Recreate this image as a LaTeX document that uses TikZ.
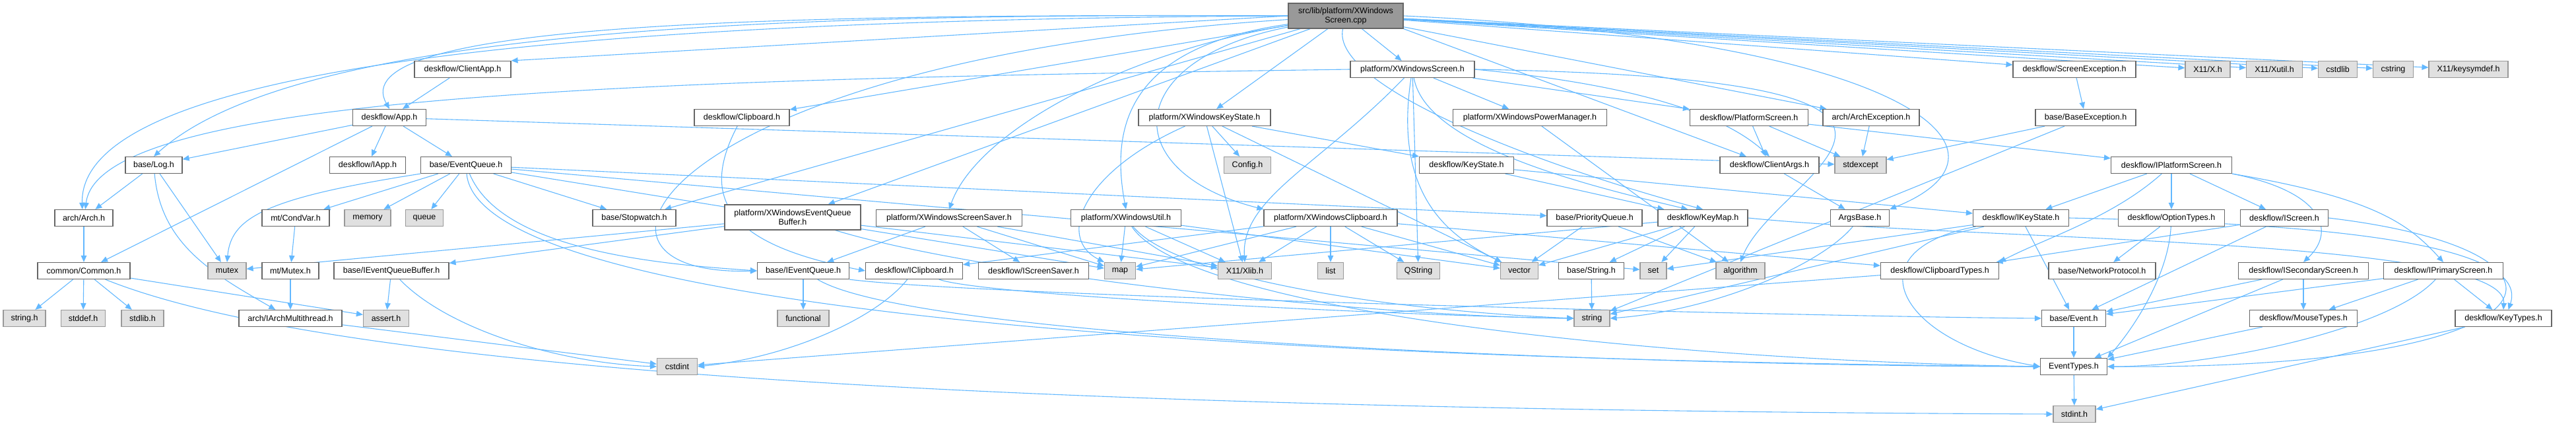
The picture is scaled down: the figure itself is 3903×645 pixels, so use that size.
\documentclass[tikz,border=0pt]{standalone}
\usepackage{fontspec}
\setmainfont{Liberation Sans}
\usetikzlibrary{arrows.meta}
\definecolor{edgeblue}{HTML}{63B8FF}
\definecolor{boxline}{HTML}{666666}
\definecolor{sysfill}{HTML}{E0E0E0}
\definecolor{sysline}{HTML}{999999}
\definecolor{rootfill}{HTML}{999999}
\pgfdeclarelayer{back}
\pgfsetlayers{back,main}

\begin{document}
\begin{tikzpicture}[x=1pt, y=-1pt,
  every node/.style={font=\fontsize{12.5}{14}\selectfont, inner sep=2pt, minimum height=25, line width=1.2pt},
  hdr/.style={draw=boxline, fill=white},
  sys/.style={draw=sysline, fill=sysfill},
  srcfile/.style={draw=boxline, fill=rootfill, align=center, minimum height=38},
  dep/.style={draw=edgeblue, line width=1.1pt, -{Triangle[length=10pt, width=8.5pt]}}]
        \useasboundingbox (0,0) rectangle (3903,645);

        \node[srcfile, minimum width=174] (root) at (2039,24) {src/lib/platform/XWindows\\Screen.cpp};

        \node[hdr, minimum width=146] (clientapp) at (701,105) {deskflow/ClientApp.h};
        \node[hdr, minimum width=188] (xwsh) at (2140,105) {platform/XWindowsScreen.h};
        \node[hdr, minimum width=186] (screenexc) at (3143,105) {deskflow/ScreenException.h};
        \node[sys, minimum width=68] (xh) at (3345,105) {X11/X.h};
        \node[sys, minimum width=85] (xutil) at (3446,105) {X11/Xutil.h};
        \node[sys, minimum width=59] (cstdlib) at (3542,105) {cstdlib};
        \node[sys, minimum width=61] (cstring) at (3626,105) {cstring};
        \node[sys, minimum width=120] (keysymdef) at (3740,105) {X11/keysymdef.h};

        \node[hdr, minimum width=111] (apph) at (590,178) {deskflow/App.h};
        \node[hdr, minimum width=144] (clipboard) at (1124,178) {deskflow/Clipboard.h};
        \node[hdr, minimum width=200] (xwkeystate) at (1825,178) {platform/XWindowsKeyState.h};
        \node[hdr, minimum width=233] (powermgr) at (2318,178) {platform/XWindowsPowerManager.h};
        \node[hdr, minimum width=179] (platscreen) at (2650,178) {deskflow/PlatformScreen.h};
        \node[hdr, minimum width=146] (archexc) at (2835,178) {arch/ArchException.h};
        \node[hdr, minimum width=152] (baseexc) at (3160,178) {base/BaseException.h};

        \node[hdr, minimum width=86] (logh) at (233,250) {base/Log.h};
        \node[hdr, minimum width=115] (iapp) at (557,250) {deskflow/IApp.h};
        \node[hdr, minimum width=137] (evqueue) at (706,250) {base/EventQueue.h};
        \node[sys, minimum width=71] (config) at (1890,250) {Config.h};
        \node[hdr, minimum width=143] (keystate) at (2222,250) {deskflow/KeyState.h};
        \node[hdr, minimum width=150] (clientargs) at (2681,250) {deskflow/ClientArgs.h};
        \node[sys, minimum width=78] (stdexcept) at (2819,250) {stdexcept};
        \node[hdr, minimum width=183] (iplatscreen) at (3290,250) {deskflow/IPlatformScreen.h};

        \node[hdr, minimum width=88] (archh) at (127,330) {arch/Arch.h};
        \node[hdr, minimum width=102] (condvar) at (448,330) {mt/CondVar.h};
        \node[sys, minimum width=70] (memory) at (557,330) {memory};
        \node[sys, minimum width=57] (queue) at (643,330) {queue};
        \node[hdr, minimum width=126] (stopwatch) at (961,330) {base/Stopwatch.h};
        \node[hdr, minimum width=206, minimum height=38, align=center] (xweqbuf) at (1201,329) {platform/XWindowsEventQueue\\Buffer.h};
        \node[hdr, minimum width=221] (xwsaver) at (1438,330) {platform/XWindowsScreenSaver.h};
        \node[hdr, minimum width=167] (xwutil) at (1706,330) {platform/XWindowsUtil.h};
        \node[hdr, minimum width=202] (xwclip) at (2016,330) {platform/XWindowsClipboard.h};
        \node[hdr, minimum width=144] (prioqueue) at (2416,330) {base/PriorityQueue.h};
        \node[hdr, minimum width=136] (keymap) at (2580,330) {deskflow/KeyMap.h};
        \node[hdr, minimum width=89] (argsbase) at (2818,330) {ArgsBase.h};
        \node[hdr, minimum width=145] (ikeystate) at (3062,330) {deskflow/IKeyState.h};
        \node[hdr, minimum width=161] (optiontypes) at (3290,330) {deskflow/OptionTypes.h};
        \node[hdr, minimum width=133] (iscreen) at (3461,330) {deskflow/IScreen.h};

        \node[hdr, minimum width=140] (common) at (127,410) {common/Common.h};
        \node[sys, minimum width=58] (mutex) at (344,410) {mutex};
        \node[hdr, minimum width=86] (mutexh) at (440,410) {mt/Mutex.h};
        \node[hdr, minimum width=174] (ieqbuf) at (593,410) {base/IEventQueueBuffer.h};
        \node[hdr, minimum width=139] (ievqueue) at (1217,410) {base/IEventQueue.h};
        \node[hdr, minimum width=147] (iclipboard) at (1385,410) {deskflow/IClipboard.h};
        \node[hdr, minimum width=167] (iscreensaver) at (1566,410) {deskflow/IScreenSaver.h};
        \node[sys, minimum width=47] (map) at (1697,410) {map};
        \node[sys, minimum width=81] (xlib) at (1886,410) {X11/Xlib.h};
        \node[sys, minimum width=39] (list) at (2016,410) {list};
        \node[sys, minimum width=65] (qstring) at (2149,410) {QString};
        \node[sys, minimum width=57] (vector) at (2302,410) {vector};
        \node[hdr, minimum width=99] (stringh) at (2411,410) {base/String.h};
        \node[sys, minimum width=40] (set) at (2505,410) {set};
        \node[sys, minimum width=74] (algorithm) at (2637,410) {algorithm};
        \node[hdr, minimum width=179] (cliptypes) at (2939,410) {deskflow/ClipboardTypes.h};
        \node[hdr, minimum width=162] (netproto) at (3185,410) {base/NetworkProtocol.h};
        \node[hdr, minimum width=197] (isecondary) at (3490,410) {deskflow/ISecondaryScreen.h};
        \node[hdr, minimum width=181] (iprimary) at (3702,410) {deskflow/IPrimaryScreen.h};

        \node[sys, minimum width=64] (stringdh) at (37,482) {string.h};
        \node[sys, minimum width=67] (stddef) at (126,482) {stddef.h};
        \node[sys, minimum width=64] (stdlibh) at (216,482) {stdlib.h};
        \node[hdr, minimum width=156] (iarchmt) at (440,482) {arch/IArchMultithread.h};
        \node[sys, minimum width=69] (asserth) at (585,482) {assert.h};
        \node[sys, minimum width=78] (functional) at (1217,482) {functional};
        \node[sys, minimum width=54] (string) at (2412,482) {string};
        \node[hdr, minimum width=97] (event) at (3142,482) {base/Event.h};
        \node[hdr, minimum width=163] (mousetypes) at (3490,482) {deskflow/MouseTypes.h};
        \node[hdr, minimum width=146] (keytypes) at (3793,482) {deskflow/KeyTypes.h};

        \node[sys, minimum width=61] (cstdint) at (1026,555) {cstdint};
        \node[hdr, minimum width=101] (eventtypes) at (3142,555) {EventTypes.h};

        \node[sys, minimum width=64] (stdint) at (3143,627) {stdint.h};

        \begin{pgfonlayer}{back}
        \draw[dep] (root) -- (xwsh);
        \draw[dep] (root.west) -- (clientapp.north east);
        \draw[dep] (root.west) .. controls (1100,20) and (520,40) .. (apph.north);
        \draw[dep] (root.west) .. controls (1200,20) and (450,40) .. (logh.north);
        \draw[dep] (root.west) .. controls (800,30) and (120,110) .. (archh.100);
        \draw[dep] (root) -- (clipboard);
        \draw[dep] (root) -- (xwkeystate);
        \draw[dep] (root) .. controls (1700,80) and (1480,200) .. (xwsaver.north);
        \draw[dep] (root) .. controls (1720,70) and (1680,180) .. (xwutil.north);
        \draw[dep] (root) .. controls (1700,90) and (1690,260) .. (xwclip.north west);
        \draw[dep] (root) -- (xweqbuf);
        \draw[dep] (root) .. controls (1000,90) and (820,420) .. (ievqueue.west);
        \draw[dep] (root) -- (stopwatch);
        \draw[dep] (root) .. controls (2015,130) and (2330,250) .. (keymap.north);
        \draw[dep] (root) -- (screenexc);
        \draw[dep] (root) -- (archexc);
        \draw[dep] (root.south east) -- (clientargs);
        \draw[dep] (root.east) .. controls (2900,60) and (3080,230) .. (argsbase.north east);
        \draw[dep] (root) -- (xh);
        \draw[dep] (root) -- (xutil);
        \draw[dep] (root) -- (cstdlib);
        \draw[dep] (root) -- (cstring);
        \draw[dep] (root) -- (keysymdef);

        \draw[dep] (xwsh.west) .. controls (1000,120) and (150,140) .. (archh.80);
        \draw[dep] (xwsh) -- (platscreen);
        \draw[dep] (xwsh) -- (powermgr);
        \draw[dep] (xwsh.east) .. controls (2500,130) and (2620,180) .. (clientargs.north);
        \draw[dep] (xwsh) .. controls (2160,220) and (2400,280) .. (keymap.150);
        \draw[dep] (xwsh) .. controls (2000,250) and (1880,300) .. (xlib.north);
        \draw[dep] (xwsh) -- (qstring);
        \draw[dep] (xwsh) .. controls (2110,300) and (2200,360) .. (vector);
        \draw[dep] (xwsh.east) .. controls (3100,120) and (2690,260) .. (algorithm.north);

        \draw[dep] (clientapp) -- (apph);
        \draw[dep] (apph) -- (logh);
        \draw[dep] (apph) -- (iapp);
        \draw[dep] (apph) -- (evqueue);
        \draw[dep] (apph) -- (common);
        \draw[dep] (apph) -- (stdexcept);

        \draw[dep] (logh) -- (archh);
        \draw[dep] (logh) -- (mutex);
        \draw[dep] (logh) to[out=-85,in=150] (iarchmt);
        \draw[dep] (archh) -- (common);
        \draw[dep] (common) -- (stringdh);
        \draw[dep] (common) -- (stddef);
        \draw[dep] (common) -- (stdlibh);
        \draw[dep] (common) -- (asserth);
        \draw[dep] (common) .. controls (500,560) and (1500,620) .. (stdint.west);

        \draw[dep] (evqueue) -- (queue);
        \draw[dep] (evqueue) -- (memory);
        \draw[dep] (evqueue) -- (condvar);
        \draw[dep] (evqueue.south west) .. controls (400,300) and (350,330) .. (mutex.north);
        \draw[dep] (evqueue) -- (stopwatch);
        \draw[dep] (evqueue) .. controls (760,380) and (1000,400) .. (ievqueue.west);
        \draw[dep] (evqueue) -- (prioqueue);
        \draw[dep] (evqueue) .. controls (720,420) and (1400,540) .. (eventtypes.west);
        \draw[dep] (evqueue) -- (map);
        \draw[dep] (evqueue) -- (set);
        \draw[dep] (condvar) -- (mutexh);
        \draw[dep] (mutexh) -- (iarchmt);
        \draw[dep] (iarchmt) -- (cstdint);
        \draw[dep] (ieqbuf) -- (asserth);
        \draw[dep] (ieqbuf) .. controls (680,500) and (850,550) .. (cstdint.west);

        \draw[dep] (xweqbuf) -- (ieqbuf);
        \draw[dep] (xweqbuf) -- (mutex);
        \draw[dep] (xweqbuf) -- (xlib);
        \draw[dep] (xweqbuf) .. controls (1500,420) and (2100,480) .. (string.west);
        \draw[dep] (ievqueue) -- (functional);
        \draw[dep] (ievqueue.south east) .. controls (1500,450) and (2800,480) .. (event.west);
        \draw[dep] (ievqueue) .. controls (1400,520) and (2600,555) .. (eventtypes.west);

        \draw[dep] (clipboard) .. controls (1060,300) and (1100,370) .. (iclipboard.west);
        \draw[dep] (iclipboard) .. controls (1330,480) and (1200,540) .. (cstdint.east);
        \draw[dep] (iclipboard) .. controls (1500,450) and (2200,480) .. (string.west);

        \draw[dep] (xwkeystate) -- (keystate);
        \draw[dep] (xwkeystate) -- (config);
        \draw[dep] (xwkeystate) -- (xlib);
        \draw[dep] (xwkeystate) .. controls (1640,260) and (1600,360) .. (map.north west);
        \draw[dep] (xwkeystate) -- (vector);
        \draw[dep] (keystate) -- (ikeystate);
        \draw[dep] (keystate) -- (keymap);

        \draw[dep] (keymap.east) .. controls (3000,365) and (3800,360) .. (keytypes.north);
        \draw[dep] (keymap) -- (stringh);
        \draw[dep] (keymap) -- (vector);
        \draw[dep] (keymap) -- (set);
        \draw[dep] (keymap) -- (map);
        \draw[dep] (ikeystate) -- (event);
        \draw[dep] (ikeystate) .. controls (2800,380) and (2880,520) .. (eventtypes.west);
        \draw[dep] (ikeystate.east) .. controls (3600,340) and (3830,380) .. (keytypes.60);
        \draw[dep] (ikeystate) -- (set);
        \draw[dep] (ikeystate) -- (string);

        \draw[dep] (xwsaver) -- (iscreensaver);
        \draw[dep] (xwsaver) -- (ievqueue);
        \draw[dep] (xwsaver) -- (map);
        \draw[dep] (xwsaver) -- (xlib);
        \draw[dep] (xwutil) -- (map);
        \draw[dep] (xwutil) -- (xlib);
        \draw[dep] (xwutil) .. controls (1780,420) and (2100,470) .. (string.west);
        \draw[dep] (xwutil) -- (vector);
        \draw[dep] (xwutil) .. controls (1800,470) and (2500,545) .. (eventtypes.west);
        \draw[dep] (xwclip) -- (iclipboard);
        \draw[dep] (xwclip) -- (cliptypes);
        \draw[dep] (xwclip) -- (map);
        \draw[dep] (xwclip) -- (list);
        \draw[dep] (xwclip) -- (qstring);
        \draw[dep] (xwclip) -- (vector);
        \draw[dep] (xwclip) -- (xlib);
        \draw[dep] (powermgr) -- (algorithm);

        \draw[dep] (platscreen) -- (clientargs);
        \draw[dep] (platscreen) -- (stdexcept);
        \draw[dep] (platscreen) -- (iplatscreen);
        \draw[dep] (archexc) -- (stdexcept);
        \draw[dep] (screenexc) -- (baseexc);
        \draw[dep] (baseexc) -- (stdexcept);
        \draw[dep] (baseexc) -- (string);
        \draw[dep] (clientargs) -- (argsbase);
        \draw[dep] (argsbase) .. controls (2760,400) and (2600,470) .. (string.east);
        \draw[dep] (prioqueue) -- (vector);
        \draw[dep] (prioqueue) -- (algorithm);
        \draw[dep] (stringh) -- (string);

        \draw[dep] (iplatscreen) -- (ikeystate);
        \draw[dep] (iplatscreen) .. controls (3200,330) and (3100,360) .. (cliptypes.north east);
        \draw[dep] (iplatscreen) -- (optiontypes);
        \draw[dep] (iplatscreen) -- (iscreen);
        \draw[dep] (iplatscreen.south east) .. controls (3520,290) and (3540,350) .. (isecondary.north);
        \draw[dep] (iplatscreen.south east) .. controls (3600,300) and (3650,340) .. (iprimary.north);
        \draw[dep] (optiontypes) -- (netproto);
        \draw[dep] (optiontypes) .. controls (3285,420) and (3230,500) .. (eventtypes.north east);
        \draw[dep] (iscreen) -- (cliptypes);
        \draw[dep] (iscreen) -- (event);
        \draw[dep] (iscreen.east) .. controls (3950,380) and (3900,560) .. (eventtypes.east);
        \draw[dep] (isecondary) -- (mousetypes);
        \draw[dep] (isecondary) -- (event);
        \draw[dep] (isecondary) -- (eventtypes);
        \draw[dep] (iprimary) -- (mousetypes);
        \draw[dep] (iprimary) -- (keytypes);
        \draw[dep] (iprimary) -- (event);
        \draw[dep] (iprimary) .. controls (3620,500) and (3350,555) .. (eventtypes.east);
        \draw[dep] (mousetypes) -- (eventtypes);
        \draw[dep] (keytypes) -- (stdint);
        \draw[dep] (event) -- (eventtypes);
        \draw[dep] (eventtypes) -- (stdint);
        \draw[dep] (cliptypes) -- (cstdint);
        \end{pgfonlayer}
    \end{tikzpicture}
\end{document}
